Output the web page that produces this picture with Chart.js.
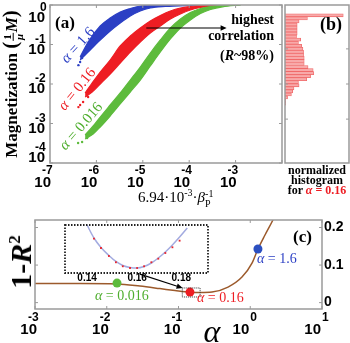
<!DOCTYPE html>
<html>
<head>
<meta charset="utf-8">
<script src="https://cdn.jsdelivr.net/npm/chart.js@4.4.0/dist/chart.umd.min.js"></script>
<style>
body { margin:0; background:#fff; }
#wrap { position:relative; width:350px; height:343px; overflow:hidden; font-family:"Liberation Serif", serif; }
#wrap canvas { position:absolute; left:0; top:0; }
.t { position:absolute; white-space:nowrap; line-height:1; z-index:5; }
.frac { display:inline-block; vertical-align:middle; text-align:center; font-size:11px; line-height:11px; margin:0 1px; }
.frac span { display:block; }
.frac span.num { border-bottom:1px solid #000; padding:0 1px; }
.ss { display:inline-block; vertical-align:-5px; font-size:10px; line-height:10px; }
.ss span { display:block; }
</style>
</head>
<body>
<div id="wrap">
  <canvas id="chartA" width="350" height="343"></canvas>
  <canvas id="chartB" width="350" height="343"></canvas>
  <canvas id="chartC" width="350" height="343"></canvas>
  <canvas id="chartD" width="350" height="343"></canvas>

  <!-- panel (a) text -->
  <div class="t" style="left:12px; top:84px; transform:translate(-50%,-50%) rotate(-90deg); font-weight:bold; font-size:17px;">Magnetization <span style="font-size:21px">(</span><span class="frac"><span class="num">1</span><span><i>μ</i></span></span><i>M</i><span style="font-size:21px">)</span></div>
  <div class="t" style="left:55px; top:14px; font-weight:bold; font-size:17px;">(a)</div>
  <div class="t" style="left:78px; top:45px; transform:translate(-50%,-50%) rotate(-48deg); font-size:15px; color:#2b3fc4;"><i>α</i> = 1.6</div>
  <div class="t" style="left:77px; top:89px; transform:translate(-50%,-50%) rotate(-51deg); font-size:15px; color:#ee1d23;"><i>α</i> = 0.16</div>
  <div class="t" style="left:81px; top:126px; transform:translate(-50%,-50%) rotate(-49deg); font-size:15px; color:#4fae2e;"><i>α</i> = 0.016</div>
  <div class="t" style="right:76px; top:12px; text-align:right; font-weight:bold; font-size:14px; line-height:16px;">highest<br>correlation<br><span style="display:inline-block; margin-top:4px">(<i>R</i>~98%)</span></div>
  <div class="t" style="left:138px; top:188px; font-size:15px;">6.94·10<sup style="font-size:10px">-3</sup>·<i>β</i><span class="ss"><span>-1</span><span>P</span></span></div>

  <!-- panel (b) text -->
  <div class="t" style="left:320px; top:15px; font-weight:bold; font-size:18px;">(b)</div>
  <div class="t" style="left:317px; top:165px; transform:translateX(-50%); text-align:center; font-weight:bold; font-size:12px; line-height:10px;">normalized<br>histogram<br>for <span style="color:#ee1d23"><i>α</i> = 0.16</span></div>

  <!-- panel (c) text -->
  <div class="t" style="left:293px; top:228px; font-weight:bold; font-size:17px;">(c)</div>
  <div class="t" style="left:21px; top:262px; transform:translate(-50%,-50%) rotate(-90deg); font-weight:bold; font-size:30px;">1-<i>R</i><sup style="font-size:17px">2</sup></div>
  <div class="t" style="left:212px; top:331px; transform:translate(-50%,-50%); font-style:italic; font-size:32px;">α</div>
  <div class="t" style="left:95px; top:289px; font-size:14px; color:#4fae2e;"><i>α</i> = 0.016</div>
  <div class="t" style="left:197px; top:291px; font-size:14px; color:#ee1d23;"><i>α</i> = 0.16</div>
  <div class="t" style="left:257px; top:252px; font-size:14px; color:#2b3fc4;"><i>α</i> = 1.6</div>
</div>

<script>
//Data

// panel (a): the point clouds, read as upper and lower edge of each band
var blueX  = [4.46e-7, 6.63e-7, 1.21e-6, 1.98e-6, 3.26e-6, 5.37e-6, 8.83e-6, 1.45e-5, 3.06e-5, 8.30e-5, 2.88e-4, 1.0e-3];
var blueHi = [0.0483, 0.1157, 0.294, 0.469, 0.665, 0.815, 0.943, 1, 1, 1, 1, 1];
var blueLo = [0.0405, 0.0646, 0.130, 0.220, 0.350, 0.527, 0.705, 0.839, 0.917, 0.966, 0.988, 1];

var redX  = [5.71e-7, 8.09e-7, 1.21e-6, 1.98e-6, 3.26e-6, 5.37e-6, 8.83e-6, 1.45e-5, 2.39e-5, 3.93e-5, 6.47e-5, 1.06e-4, 1.75e-4, 3.70e-4, 7.80e-4];
var redHi = [0.00592, 0.0106, 0.0201, 0.0405, 0.0917, 0.164, 0.262, 0.394, 0.542, 0.705, 0.839, 0.917, 0.971, 1, 1];
var redLo = [0.00469, 0.00627, 0.0100, 0.0179, 0.0340, 0.0646, 0.1157, 0.1954, 0.294, 0.442, 0.592, 0.747, 0.864, 0.954, 1];

var greenX  = [5.71e-7, 8.51e-7, 1.21e-6, 1.98e-6, 3.26e-6, 5.37e-6, 8.83e-6, 1.45e-5, 2.39e-5, 3.93e-5, 6.47e-5, 1.06e-4, 1.75e-4, 2.88e-4, 5.24e-4, 1.28e-3];
var greenHi = [0.000512, 0.000865, 0.00146, 0.00294, 0.00592, 0.0126, 0.0269, 0.0609, 0.130, 0.262, 0.442, 0.646, 0.815, 0.917, 0.983, 1];
var greenLo = [0.000405, 0.000542, 0.000815, 0.00155, 0.00312, 0.00627, 0.0126, 0.0286, 0.0646, 0.138, 0.262, 0.417, 0.609, 0.769, 0.900, 1];

// loose points round the lower tips
var blueDotX  = [4.46e-7, 4.92e-7, 5.43e-7, 4.1e-7];
var blueDotY  = [0.0361, 0.0455, 0.0542, 0.030];
var redDotX   = [4.46e-7, 5.17e-7, 6.63e-7, 4.1e-7];
var redDotY   = [0.00294, 0.0035, 0.00469, 0.0026];
var greenDotX = [4.03e-7, 4.92e-7, 6.31e-7, 7.3e-7];
var greenDotY = [0.00032, 0.00034, 0.00043, 0.00052];

var aTickX = [-7, -6, -5, -4, -3];   // labelled decades
var aTickY = [0, -1, -2, -3, -4];
var arrowA = { x0: 1.19e-5, x1: 6.4e-4, y: 0.262 };

// panel (b): histogram for alpha = 0.16, bins in log10(M)
var histLogM = [-0.043, -0.130, -0.217, -0.303, -0.390, -0.477, -0.563, -0.650, -0.737, -0.823,
                -0.910, -0.997, -1.083, -1.170, -1.257, -1.343, -1.430, -1.517, -1.603, -1.690,
                -1.777, -1.863, -1.950, -2.037, -2.123, -2.210, -2.297, -2.383, -2.470, -2.557];
var histVals = [0.91, 0.35, 0.22, 0.19, 0.19, 0.19, 0.19, 0.18, 0.245, 0.21,
                0.26, 0.28, 0.29, 0.29, 0.30, 0.30, 0.30, 0.36, 0.44, 0.45,
                0.40, 0.34, 0.21, 0.22, 0.14, 0.12, 0.10, 0.04, 0.01, 0.01];

// panel (c): 1-R^2 against alpha
var alphaCurve = [0.001, 0.00424, 0.0139, 0.029, 0.055, 0.0894, 0.1445, 0.2, 0.293, 0.49, 0.767, 1.058, 1.28, 1.605, 2.07, 2.36];
var r2Curve    = [0.0512, 0.0512, 0.0499, 0.044, 0.0373, 0.032, 0.0275, 0.0267, 0.028, 0.0413, 0.068, 0.1053, 0.1427, 0.18, 0.22, 0.244];
var markAlpha  = [0.0139, 0.1445, 1.28];
var markR2     = [0.052, 0.028, 0.1427];
var markColors = ['#5dbb3c', '#ee1d23', '#2b4fc0'];
var cTickX = [-3, -2, -1, 0, 1];
var cTickY = [0, 0.1, 0.2];
var zoomBoxAlpha = [0.113, 0.2];
var zoomBoxR2    = [0.015, 0.039];
var arrowC = { x0: 0.029, y0: 0.076, x1: 0.114, y1: 0.039 };

// inset: fit round the minimum
var insetFitAlpha = [0.14, 0.1426, 0.1453, 0.1484, 0.1512, 0.154, 0.157, 0.16, 0.163, 0.1662, 0.1693, 0.1725, 0.1758, 0.1792, 0.1829];
var insetFitR2    = [0.0289, 0.028575, 0.028338, 0.028138, 0.027988, 0.027888, 0.027838, 0.027825, 0.027863, 0.02795, 0.028075, 0.028225, 0.0284, 0.0286, 0.028825];
var insetPtAlpha  = [0.1426, 0.1453, 0.1484, 0.1512, 0.154, 0.157, 0.16, 0.163, 0.1662, 0.1693, 0.1725, 0.1758, 0.1792];
var insetPtR2     = [0.028558, 0.028325, 0.028125, 0.027968, 0.027868, 0.027825, 0.027825, 0.027868, 0.027968, 0.028058, 0.0282, 0.028343, 0.028508];
var insetTicks = [0.14, 0.16, 0.18];

var colBlue = '#2b3fc4';
var colRed = '#ee1d23';
var colGreen = '#5dbb3c';

//helpers

function pts(xs, ys) {
    var out = [];
    for (var i = 0; i < xs.length; i++) {
        out.push({ x: xs[i], y: ys[i] });
    }
    return out;
}

function band(xs, ys, color, fill, order) {
    return {
        data: pts(xs, ys),
        borderColor: color,
        backgroundColor: color,
        borderWidth: 1.2,
        pointRadius: 0,
        fill: fill,
        order: order,
        cubicInterpolationMode: 'monotone'
    };
}

function dots(xs, ys, color, order) {
    return {
        data: pts(xs, ys),
        showLine: false,
        pointRadius: 1.2,
        pointBorderWidth: 0,
        pointBackgroundColor: color,
        order: order
    };
}

function drawBox(ctx, a) {
    ctx.strokeStyle = '#9a9a9a';
    ctx.lineWidth = 1.5;
    ctx.strokeRect(a.left, a.top, a.right - a.left, a.bottom - a.top);
}

function tickV(ctx, px, a) {
    ctx.strokeStyle = '#9a9a9a';
    ctx.lineWidth = 1;
    ctx.beginPath();
    ctx.moveTo(px, a.bottom); ctx.lineTo(px, a.bottom - 3);
    ctx.moveTo(px, a.top); ctx.lineTo(px, a.top + 3);
    ctx.stroke();
}

function tickH(ctx, py, a) {
    ctx.strokeStyle = '#9a9a9a';
    ctx.lineWidth = 1;
    ctx.beginPath();
    ctx.moveTo(a.left, py); ctx.lineTo(a.left + 3, py);
    ctx.moveTo(a.right, py); ctx.lineTo(a.right - 3, py);
    ctx.stroke();
}

// "10" with the exponent set above it
function drawPow(ctx, tenRight, tenMid, exp, expLeft, expMid) {
    ctx.fillStyle = '#000';
    ctx.textBaseline = 'middle';
    ctx.font = 'bold 15px "Liberation Sans"';
    ctx.textAlign = 'right';
    ctx.fillText('10', tenRight, tenMid);
    ctx.font = 'bold 12px "Liberation Sans"';
    ctx.textAlign = 'left';
    ctx.fillText(String(exp), expLeft, expMid);
}

function arrow(ctx, x0, y0, x1, y1, head) {
    var ang = Math.atan2(y1 - y0, x1 - x0);
    ctx.strokeStyle = '#000';
    ctx.fillStyle = '#000';
    ctx.lineWidth = 1.2;
    ctx.beginPath();
    ctx.moveTo(x0, y0);
    ctx.lineTo(x1 - head * 0.8 * Math.cos(ang), y1 - head * 0.8 * Math.sin(ang));
    ctx.stroke();
    ctx.beginPath();
    ctx.moveTo(x1, y1);
    ctx.lineTo(x1 - head * Math.cos(ang) + head * 0.45 * Math.sin(ang), y1 - head * Math.sin(ang) - head * 0.45 * Math.cos(ang));
    ctx.lineTo(x1 - head * Math.cos(ang) - head * 0.45 * Math.sin(ang), y1 - head * Math.sin(ang) + head * 0.45 * Math.cos(ang));
    ctx.closePath();
    ctx.fill();
}

var baseOptions = function(pad) {
    return {
        responsive: false,
        animation: false,
        layout: { padding: pad },
        plugins: { legend: { display: false }, tooltip: { enabled: false } }
    };
};

//panel (a)

var frameA = {
    id: 'frameA',
    afterDraw: function(chart) {
        var ctx = chart.ctx, a = chart.chartArea;
        var xs = chart.scales.x, ys = chart.scales.y;
        ctx.save();
        drawBox(ctx, a);
        for (var e = -7; e <= -2; e++) {
            tickV(ctx, xs.getPixelForValue(Math.pow(10, e)), a);
        }
        for (var e2 = -4; e2 <= 0; e2++) {
            tickH(ctx, ys.getPixelForValue(Math.pow(10, e2)), a);
        }
        aTickX.forEach(function(e) {
            var px = xs.getPixelForValue(Math.pow(10, e));
            drawPow(ctx, px + 1, a.bottom + 19.5, e, px - 8, a.bottom + 8);
        });
        aTickY.forEach(function(e, i) {
            var py = ys.getPixelForValue(Math.pow(10, e));
            var ten = py + 5;
            if (i == 0) ten = py + 12.5;
            if (i == aTickY.length - 1) ten = py - 5;
            drawPow(ctx, a.left - 5, ten, e, e < 0 ? a.left - 15 : a.left - 10, ten - 10);
        });
        arrow(ctx, xs.getPixelForValue(arrowA.x0), ys.getPixelForValue(arrowA.y),
              xs.getPixelForValue(arrowA.x1), ys.getPixelForValue(arrowA.y), 6);
        ctx.restore();
    }
};

var configA = {
    type: 'line',
    data: {
        datasets: [
            band(greenX, greenHi, colGreen, '+1', 1),
            band(greenX, greenLo, colGreen, false, 1),
            band(redX, redHi, colRed, '+1', 2),
            band(redX, redLo, colRed, false, 2),
            band(blueX, blueHi, colBlue, '+1', 3),
            band(blueX, blueLo, colBlue, false, 3),
            dots(greenDotX, greenDotY, colGreen, 1),
            dots(redDotX, redDotY, colRed, 2),
            dots(blueDotX, blueDotY, colBlue, 3)
        ]
    },
    options: baseOptions({ left: 50, top: 5, right: 68, bottom: 180 }),
    plugins: [frameA]
};
configA.options.scales = {
    x: { type: 'logarithmic', min: 1e-7, max: 1e-2, display: false },
    y: { type: 'logarithmic', min: 1e-4, max: 1, display: false }
};

//panel (b)

var frameB = {
    id: 'frameB',
    afterDraw: function(chart) {
        var ctx = chart.ctx, a = chart.chartArea;
        var ys = chart.scales.y;
        ctx.save();
        drawBox(ctx, a);
        [-1, -2, -3].forEach(function(v) {
            tickH(ctx, ys.getPixelForValue(v), a);
        });
        ctx.restore();
    }
};

var configB = {
    type: 'bar',
    data: {
        datasets: [{
            data: pts(histVals, histLogM),
            backgroundColor: '#f8a9a9',
            borderColor: '#f06a6a',
            borderWidth: 0.8,
            barPercentage: 1,
            categoryPercentage: 1
        }]
    },
    options: baseOptions({ left: 285, top: 5, right: 1, bottom: 180 }),
    plugins: [frameB]
};
configB.options.indexAxis = 'y';
configB.options.scales = {
    x: { type: 'linear', min: 0, max: 1, display: false },
    y: { type: 'linear', min: -4, max: 0, display: false }
};

//panel (c)

var frameC = {
    id: 'frameC',
    afterDraw: function(chart) {
        var ctx = chart.ctx, a = chart.chartArea;
        var xs = chart.scales.x, ys = chart.scales.y;
        ctx.save();
        drawBox(ctx, a);
        cTickX.forEach(function(e) {
            var px = xs.getPixelForValue(Math.pow(10, e));
            tickV(ctx, px, a);
            drawPow(ctx, e < 0 ? px + 2 : px - 1, a.bottom + 21, e, e < 0 ? px - 7 : px, a.bottom + 9);
        });
        cTickY.forEach(function(v) {
            var py = ys.getPixelForValue(v);
            tickH(ctx, py, a);
            ctx.fillStyle = '#000';
            ctx.font = 'bold 14px "Liberation Sans"';
            ctx.textAlign = 'left';
            ctx.textBaseline = 'middle';
            ctx.fillText(String(v), a.right + 2, py);
        });
        // small dotted box round the minimum
        var bx0 = xs.getPixelForValue(zoomBoxAlpha[0]), bx1 = xs.getPixelForValue(zoomBoxAlpha[1]);
        var by0 = ys.getPixelForValue(zoomBoxR2[1]), by1 = ys.getPixelForValue(zoomBoxR2[0]);
        ctx.setLineDash([1, 1]);
        ctx.strokeStyle = '#333';
        ctx.lineWidth = 1;
        ctx.strokeRect(bx0, by0, bx1 - bx0, by1 - by0);
        ctx.setLineDash([]);
        arrow(ctx, xs.getPixelForValue(arrowC.x0), ys.getPixelForValue(arrowC.y0),
              xs.getPixelForValue(arrowC.x1), ys.getPixelForValue(arrowC.y1), 6);
        ctx.restore();
    }
};

var markSets = markAlpha.map(function(al, i) {
    return {
        data: [{ x: al, y: markR2[i] }],
        showLine: false,
        pointRadius: 4.5,
        pointBorderWidth: 0,
        pointBackgroundColor: markColors[i]
    };
});

var configC = {
    type: 'line',
    data: {
        datasets: markSets.concat([{
            data: pts(alphaCurve, r2Curve),
            borderColor: '#9c5a2c',
            borderWidth: 1.5,
            pointRadius: 0,
            fill: false,
            cubicInterpolationMode: 'monotone'
        }])
    },
    options: baseOptions({ left: 35, top: 220, right: 28, bottom: 34 }),
    plugins: [frameC]
};
configC.options.scales = {
    x: { type: 'logarithmic', min: 1e-3, max: 10, display: false },
    y: { type: 'linear', min: -0.017, max: 0.22, display: false }
};

//inset

var frameD = {
    id: 'frameD',
    beforeDraw: function(chart) {
        var ctx = chart.ctx, a = chart.chartArea;
        ctx.save();
        ctx.fillStyle = '#fff';
        ctx.fillRect(a.left, a.top, a.right - a.left, a.bottom - a.top);
        ctx.restore();
    },
    afterDraw: function(chart) {
        var ctx = chart.ctx, a = chart.chartArea;
        var xs = chart.scales.x;
        ctx.save();
        ctx.setLineDash([1.5, 1.5]);
        ctx.strokeStyle = '#222';
        ctx.lineWidth = 1.8;
        ctx.strokeRect(a.left, a.top, a.right - a.left, a.bottom - a.top);
        ctx.setLineDash([]);
        ctx.fillStyle = '#000';
        ctx.font = 'bold 10px "Liberation Sans"';
        ctx.textAlign = 'center';
        ctx.textBaseline = 'middle';
        insetTicks.forEach(function(v) {
            ctx.fillText(v.toFixed(2), xs.getPixelForValue(v), a.bottom + 5.5);
        });
        ctx.restore();
    }
};

var configD = {
    type: 'line',
    data: {
        datasets: [{
            data: pts(insetPtAlpha, insetPtR2),
            showLine: false,
            pointStyle: 'rect',
            pointRadius: 1.3,
            pointBorderWidth: 0,
            pointBackgroundColor: '#e8262e'
        }, {
            data: pts(insetFitAlpha, insetFitR2),
            borderColor: '#a3abe0',
            borderWidth: 1.5,
            pointRadius: 0,
            fill: false,
            cubicInterpolationMode: 'monotone'
        }]
    },
    options: baseOptions({ left: 65, top: 225, right: 142, bottom: 70 }),
    plugins: [frameD]
};
configD.options.scales = {
    x: { type: 'logarithmic', min: 0.132, max: 0.1933, display: false },
    y: { type: 'linear', min: 0.0277, max: 0.0289, display: false }
};

window.onload = function() {
    new Chart(document.getElementById('chartA').getContext('2d'), configA);
    new Chart(document.getElementById('chartB').getContext('2d'), configB);
    new Chart(document.getElementById('chartC').getContext('2d'), configC);
    new Chart(document.getElementById('chartD').getContext('2d'), configD);
};
</script>
</body>
</html>
